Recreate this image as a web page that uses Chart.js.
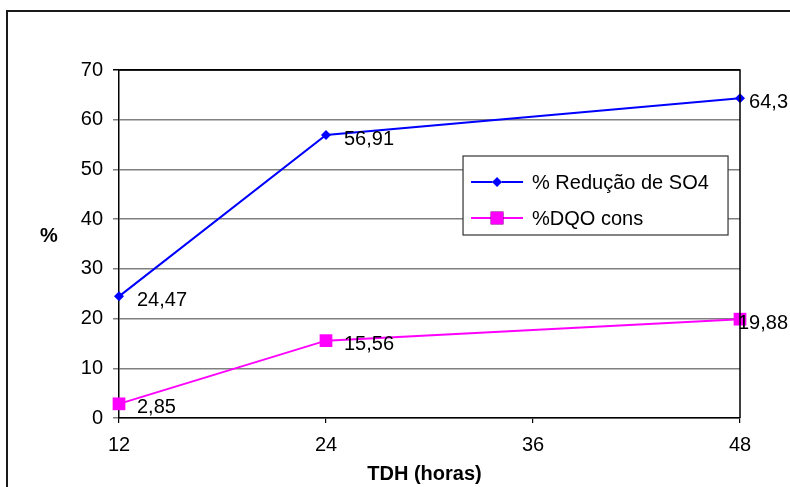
<!DOCTYPE html>
<html>
<head>
<meta charset="utf-8">
<script src="https://cdn.jsdelivr.net/npm/chart.js@4.4.1/dist/chart.umd.min.js"></script>
<style>
  html, body { margin: 0; padding: 0; background: #fff; }
  #chart { display: block; }
</style>
</head>
<body>
<canvas id="chart" width="790" height="487"></canvas>
<script>
// data
var tdh = [12, 24, 48];
var reducaoSO4 = [24.47, 56.91, 64.3];
var dqoCons = [2.85, 15.56, 19.88];
var xTicks = [12, 24, 36, 48];
var yTicks = [0, 10, 20, 30, 40, 50, 60, 70];

var FONT = "'Liberation Sans', Arial, sans-serif";

function pts(xs, ys) {
  var out = [];
  for (var i = 0; i < xs.length; i++) out.push({x: xs[i], y: ys[i]});
  return out;
}

// outer frame, plot border, axis titles
var framePlugin = {
  id: 'frame',
  beforeDraw: function(chart) {
    var ctx = chart.ctx;
    ctx.save();
    ctx.fillStyle = '#fff';
    ctx.fillRect(0, 0, chart.width, chart.height);
    ctx.strokeStyle = '#1a1a1a';
    ctx.lineWidth = 2;
    ctx.beginPath();
    ctx.moveTo(7, chart.height + 2);
    ctx.lineTo(7, 11);
    ctx.lineTo(chart.width + 2, 11);
    ctx.stroke();
    ctx.restore();
  },
  afterDraw: function(chart) {
    var ctx = chart.ctx, a = chart.chartArea;
    ctx.save();
    ctx.strokeStyle = '#000';
    ctx.lineWidth = 1.5;
    ctx.beginPath();
    ctx.moveTo(a.left, a.top);
    ctx.lineTo(a.right, a.top);
    ctx.lineTo(a.right, a.bottom);
    ctx.stroke();
    ctx.fillStyle = '#000';
    ctx.font = 'bold 20px ' + FONT;
    ctx.textAlign = 'center';
    ctx.textBaseline = 'middle';
    ctx.fillText('TDH (horas)', (a.left + a.right) / 2 - 5, 474);
    ctx.fillText('%', 49, 236);
    ctx.restore();
  }
};

// value labels next to each point
var labelPlugin = {
  id: 'valueLabels',
  afterDatasetsDraw: function(chart) {
    var ctx = chart.ctx;
    ctx.save();
    ctx.fillStyle = '#000';
    ctx.font = '20px ' + FONT;
    ctx.textAlign = 'left';
    ctx.textBaseline = 'middle';
    chart.data.datasets.forEach(function(ds, di) {
      var meta = chart.getDatasetMeta(di);
      meta.data.forEach(function(p, i) {
        var txt = String(ds.data[i].y).replace('.', ',');
        var w = ctx.measureText(txt).width;
        var x = p.x + 18;
        if (x + w > chart.width - 2) x = chart.width - 2 - w;
        ctx.fillText(txt, x, p.y + 4);
      });
    });
    ctx.restore();
  }
};

// boxed legend inside the plot, like the original
var legendPlugin = {
  id: 'boxLegend',
  afterDraw: function(chart) {
    var ctx = chart.ctx, a = chart.chartArea;
    var bx = a.left + (a.right - a.left) * 0.554;
    var by = a.top + 86;
    var bw = 265, bh = 79;
    ctx.save();
    ctx.fillStyle = '#fff';
    ctx.fillRect(bx, by, bw, bh);
    ctx.strokeStyle = '#333';
    ctx.lineWidth = 1.2;
    ctx.strokeRect(bx, by, bw, bh);
    ctx.font = '20px ' + FONT;
    ctx.textBaseline = 'middle';
    ctx.textAlign = 'left';
    chart.data.datasets.forEach(function(ds, i) {
      var cy = by + 26 + i * 36;
      ctx.strokeStyle = ds.borderColor;
      ctx.lineWidth = ds.borderWidth;
      ctx.beginPath();
      ctx.moveTo(bx + 8, cy);
      ctx.lineTo(bx + 60, cy);
      ctx.stroke();
      Chart.helpers.drawPoint(ctx, {
        pointStyle: ds.pointStyle,
        radius: ds.pointRadius,
        borderWidth: 0
      }, bx + 34, cy);
      ctx.fillStyle = ds.pointBackgroundColor;
      ctx.fill();
      ctx.fillStyle = '#000';
      ctx.fillText(ds.label, bx + 69, cy + 1);
    });
    ctx.restore();
  }
};

var ctx = document.getElementById('chart').getContext('2d');
var chart = new Chart(ctx, {
  type: 'line',
  data: {
    datasets: [
      {
        label: '% Redução de SO4',
        data: pts(tdh, reducaoSO4),
        borderColor: '#0000ff',
        backgroundColor: '#0000ff',
        pointBackgroundColor: '#0000ff',
        pointBorderColor: '#0000ff',
        pointStyle: 'rectRot',
        pointRadius: 5,
        pointBorderWidth: 0,
        borderWidth: 2,
        tension: 0,
        clip: false
      },
      {
        label: '%DQO cons',
        data: pts(tdh, dqoCons),
        borderColor: '#ff00ff',
        backgroundColor: '#ff00ff',
        pointBackgroundColor: '#ff00ff',
        pointBorderColor: '#ff00ff',
        pointStyle: 'rect',
        pointRadius: 9,
        pointBorderWidth: 0,
        borderWidth: 2,
        tension: 0,
        clip: false
      }
    ]
  },
  options: {
    responsive: false,
    animation: false,
    devicePixelRatio: 1,
    layout: { padding: { top: 70, right: 50, left: 0, bottom: 0 } },
    plugins: {
      legend: { display: false },
      tooltip: { enabled: false }
    },
    scales: {
      x: {
        type: 'linear',
        min: xTicks[0],
        max: xTicks[xTicks.length - 1],
        afterBuildTicks: function(s) { s.ticks = xTicks.map(function(v) { return {value: v}; }); },
        afterFit: function(s) { s.height = 69; },
        border: { display: true, color: '#000', width: 1.5 },
        grid: { drawOnChartArea: false, drawTicks: true, tickLength: 5, color: '#000', lineWidth: 1.2 },
        ticks: { color: '#000', font: { family: FONT, size: 20 }, padding: 10, maxRotation: 0 }
      },
      y: {
        min: yTicks[0],
        max: yTicks[yTicks.length - 1],
        afterBuildTicks: function(s) { s.ticks = yTicks.map(function(v) { return {value: v}; }); },
        afterFit: function(s) { s.width = 119; },
        border: { display: true, color: '#000', width: 1.5 },
        grid: {
          drawTicks: true,
          tickLength: 6,
          color: function(c) { return c.tick && c.tick.value === 70 ? '#000' : '#808080'; },
          lineWidth: 1.5
        },
        ticks: { color: '#000', font: { family: FONT, size: 20 }, padding: 10 }
      }
    }
  },
  plugins: [framePlugin, legendPlugin, labelPlugin]
});
</script>
</body>
</html>
